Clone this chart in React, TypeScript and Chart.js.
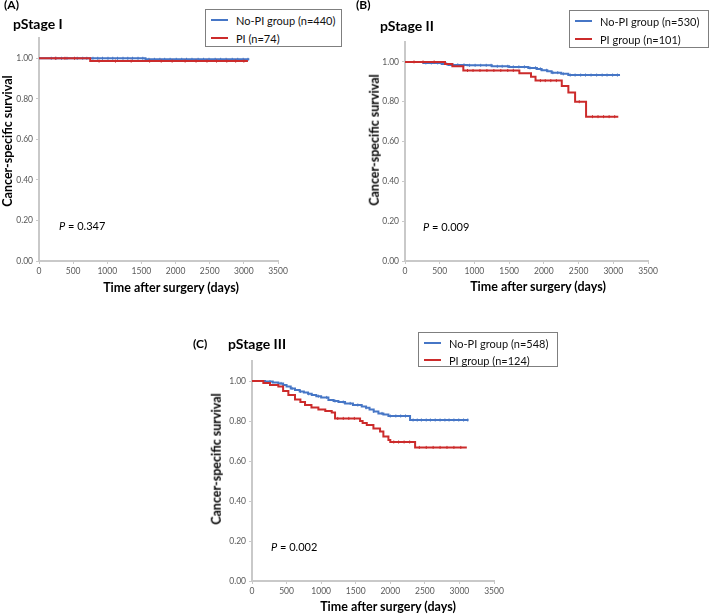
import React, { useEffect, useRef } from "react";
import { Chart, registerables } from "chart.js";

Chart.register(...registerables);

const BLUE = "#4676c6";
const RED = "#cc2b2b";
const AXIS_COLOR = "#c9c9c9";
const TICK_TEXT = "#595959";
const FONT = "Lato, 'Open Sans', sans-serif";

// Axis ticks
const xTickValues = [0, 500, 1000, 1500, 2000, 2500, 3000, 3500];
const yTickValues = [0, 0.2, 0.4, 0.6, 0.8, 1.0];

// ---------- Panel A: pStage I ----------
const aNoPiDays = [0, 1560, 3080];
const aNoPiSurv = [1, 0.995, 0.995];
const aNoPiCensor = [180, 250, 330, 410, 560, 640, 700, 790, 860, 930, 1010, 1080, 1150, 1230, 1300, 1370, 1450, 1520, 1610, 1690, 1770, 1840, 1920, 2010, 2090, 2160, 2240, 2330, 2410, 2490, 2580, 2660, 2740, 2830, 2910, 2990, 3060];
const aPiDays = [0, 750, 3060];
const aPiSurv = [1, 0.986, 0.986];
const aPiCensor = [240, 380, 520, 880, 1120, 1350, 1620, 1790, 1950, 2140, 2300, 2460, 2600, 2750, 2880, 3000];

// ---------- Panel B: pStage II ----------
const bNoPiDays = [0, 264, 528, 624, 900, 1250, 1500, 1776, 1900, 1968, 2050, 2112, 2250, 2352, 3097];
const bNoPiSurv = [1, 0.995, 0.99, 0.985, 0.983, 0.978, 0.975, 0.97, 0.965, 0.958, 0.953, 0.946, 0.94, 0.934, 0.934];
const bNoPiCensor = [300, 380, 470, 600, 690, 760, 850, 930, 1010, 1090, 1170, 1240, 1330, 1400, 1480, 1560, 1640, 1720, 1800, 1880, 1950, 2040, 2130, 2200, 2280, 2380, 2450, 2530, 2600, 2680, 2760, 2840, 2910, 2990, 3060];
const bPiDays = [0, 576, 682, 840, 1647, 1815, 1880, 2258, 2353, 2450, 2608, 3072];
const bPiSurv = [1, 0.989, 0.978, 0.957, 0.943, 0.925, 0.906, 0.879, 0.846, 0.8, 0.725, 0.725];
const bPiCensor = [130, 260, 420, 900, 980, 1080, 1180, 1280, 1380, 1480, 1560, 1950, 2020, 2100, 2180, 2510, 2700, 2780, 2860, 2940, 3020];

// ---------- Panel C: pStage III ----------
const cNoPiDays = [0, 188, 300, 381, 450, 500, 560, 622, 690, 750, 810, 864, 930, 1000, 1105, 1180, 1250, 1346, 1460, 1587, 1650, 1700, 1760, 1828, 1900, 1973, 2286, 3131];
const cNoPiSurv = [1, 0.997, 0.993, 0.988, 0.98, 0.972, 0.963, 0.955, 0.948, 0.942, 0.936, 0.93, 0.924, 0.918, 0.905, 0.9, 0.895, 0.888, 0.88, 0.872, 0.866, 0.858, 0.848, 0.838, 0.832, 0.825, 0.805, 0.805];
const cNoPiCensor = [260, 420, 580, 700, 820, 960, 1080, 1200, 1320, 1420, 1530, 1650, 1760, 1880, 2000, 2080, 2150, 2220, 2330, 2390, 2450, 2520, 2580, 2650, 2720, 2790, 2850, 2920, 2990, 3060, 3120];
const cPiDays = [0, 164, 260, 381, 450, 526, 622, 700, 767, 860, 960, 1060, 1153, 1201, 1563, 1600, 1660, 1756, 1852, 1900, 1973, 2000, 2359, 3107];
const cPiSurv = [1, 0.99, 0.98, 0.972, 0.95, 0.93, 0.908, 0.895, 0.88, 0.868, 0.858, 0.85, 0.842, 0.813, 0.8, 0.79, 0.78, 0.763, 0.747, 0.722, 0.705, 0.695, 0.668, 0.668];
const cPiCensor = [1240, 1320, 1400, 1480, 2050, 2120, 2200, 2280, 2420, 2520, 2620, 2720, 2820, 2920, 3020];

function stepAt(days: number[], surv: number[], x: number) {
  let v = surv[0];
  for (let i = 0; i < days.length; i++) if (days[i] <= x) v = surv[i];
  return v;
}

type Curve = { days: number[]; surv: number[]; censor: number[]; color: string; order: number };
type PanelCfg = {
  left: number; top: number; width: number; height: number;
  axisW: number; padRight: number; padTop: number; axisH: number;
  curves: Curve[];
};

function KMPanel({ cfg }: { cfg: PanelCfg }) {
  const ref = useRef<HTMLCanvasElement>(null);
  useEffect(() => {
    if (!ref.current) return;
    const datasets: any[] = [];
    cfg.curves.forEach((c) => {
      datasets.push({
        data: c.days.map((d, i) => ({ x: d, y: c.surv[i] })),
        borderColor: c.color,
        backgroundColor: c.color,
        borderWidth: 2,
        pointRadius: 0,
        stepped: "before",
        fill: false,
        order: c.order,
      });
      datasets.push({
        data: c.censor.map((d) => ({ x: d, y: stepAt(c.days, c.surv, d) })),
        showLine: false,
        pointStyle: "line",
        pointRotation: 90,
        pointRadius: 1.5,
        pointBorderWidth: 1,
        pointBorderColor: c.color,
        pointBackgroundColor: c.color,
        borderColor: c.color,
        order: c.order,
      });
    });
    const tickFont = { family: FONT, size: 8.5 };
    const chart = new Chart(ref.current, {
      type: "line",
      data: { datasets },
      options: {
        responsive: false,
        animation: false,
        events: [],
        layout: { padding: { left: 0, right: cfg.padRight, top: cfg.padTop, bottom: 0 } },
        plugins: { legend: { display: false }, tooltip: { enabled: false }, title: { display: false } },
        scales: {
          x: {
            type: "linear",
            min: 0,
            max: 3500,
            afterBuildTicks: (s: any) => {
              s.ticks = xTickValues.map((v) => ({ value: v }));
            },
            ticks: {
              font: tickFont,
              color: TICK_TEXT,
              padding: 2,
              maxRotation: 0,
              autoSkip: false,
              callback: (v: any) => String(v),
            },
            grid: { display: true, drawOnChartArea: false, drawTicks: true, tickLength: 3, color: AXIS_COLOR, lineWidth: 1 },
            border: { display: true, color: AXIS_COLOR, width: 2 },
            afterFit: (s: any) => {
              s.height = cfg.axisH;
            },
          },
          y: {
            type: "linear",
            min: 0,
            max: 1.1,
            afterBuildTicks: (s: any) => {
              s.ticks = yTickValues.map((v) => ({ value: v }));
            },
            ticks: {
              font: tickFont,
              color: TICK_TEXT,
              padding: 3,
              autoSkip: false,
              callback: (v: any) => Number(v).toFixed(2),
            },
            grid: { display: true, drawOnChartArea: false, drawTicks: true, tickLength: 3, color: AXIS_COLOR, lineWidth: 1 },
            border: { display: true, color: AXIS_COLOR, width: 2 },
            afterFit: (s: any) => {
              s.width = cfg.axisW;
            },
          },
        },
      } as any,
    });
    return () => chart.destroy();
  }, []);
  return (
    <canvas
      ref={ref}
      width={cfg.width}
      height={cfg.height}
      style={{ position: "absolute", left: cfg.left, top: cfg.top, width: cfg.width, height: cfg.height }}
    />
  );
}

function Txt({ x, y, size, bold, center, rotate, children, color }: any) {
  const tf = rotate
    ? "translate(-50%, -50%) rotate(-90deg)"
    : center
    ? "translate(-50%, -50%)"
    : "translateY(-50%)";
  return (
    <div
      style={{
        position: "absolute",
        left: x,
        top: y,
        transform: tf,
        whiteSpace: "nowrap",
        fontFamily: FONT,
        fontSize: size,
        fontWeight: bold ? 700 : 400,
        lineHeight: 1,
        color: color || "#000",
      }}
    >
      {children}
    </div>
  );
}

function Legend({ x, y, w, h, rows, labels }: any) {
  return (
    <div
      style={{
        position: "absolute",
        left: x,
        top: y,
        width: w,
        height: h,
        boxSizing: "border-box",
        border: "1px solid #7f7f7f",
        background: "#fff",
      }}
    >
      {labels.map((l: any, i: number) => (
        <React.Fragment key={i}>
          <div
            style={{
              position: "absolute",
              left: 5,
              top: rows[i] - 2,
              width: 17,
              height: 2,
              background: l.color,
            }}
          />
          <div
            style={{
              position: "absolute",
              left: 30,
              top: rows[i] - 1,
              transform: "translateY(-50%)",
              whiteSpace: "nowrap",
              fontFamily: FONT,
              fontSize: 11,
              lineHeight: 1,
              color: "#111",
            }}
          >
            {l.text}
          </div>
        </React.Fragment>
      ))}
    </div>
  );
}

const panelA: PanelCfg = {
  left: 0, top: 0, width: 300, height: 300, axisW: 39, padRight: 22, padTop: 38, axisH: 39,
  curves: [
    { days: aNoPiDays, surv: aNoPiSurv, censor: aNoPiCensor, color: BLUE, order: 1 },
    { days: aPiDays, surv: aPiSurv, censor: aPiCensor, color: RED, order: 0 },
  ],
};
const panelB: PanelCfg = {
  left: 360, top: 0, width: 349, height: 300, axisW: 45, padRight: 61, padTop: 42, axisH: 39,
  curves: [
    { days: bNoPiDays, surv: bNoPiSurv, censor: bNoPiCensor, color: BLUE, order: 1 },
    { days: bPiDays, surv: bPiSurv, censor: bPiCensor, color: RED, order: 0 },
  ],
};
const panelC: PanelCfg = {
  left: 180, top: 300, width: 360, height: 314, axisW: 72, padRight: 46, padTop: 61, axisH: 33,
  curves: [
    { days: cNoPiDays, surv: cNoPiSurv, censor: cNoPiCensor, color: BLUE, order: 1 },
    { days: cPiDays, surv: cPiSurv, censor: cPiCensor, color: RED, order: 0 },
  ],
};

const Y_TITLE = "Cancer-specific survival";
const X_TITLE = "Time after surgery (days)";

export default function App() {
  useEffect(() => {
    document.body.style.margin = "0";
  }, []);
  return (
    <div style={{ position: "absolute", left: 0, top: 0, width: 709, height: 614, overflow: "hidden", background: "#fff" }}>
      <KMPanel cfg={panelA} />
      <KMPanel cfg={panelB} />
      <KMPanel cfg={panelC} />

      {/* Panel A texts */}
      <Txt x={4} y={5} size={12} bold>(A)</Txt>
      <Txt x={13} y={24} size={14} bold>pStage I</Txt>
      <Txt x={8} y={141} size={12.5} bold rotate>{Y_TITLE}</Txt>
      <Txt x={171} y={288} size={12.5} bold center>{X_TITLE}</Txt>
      <Txt x={59} y={225} size={11}><span style={{ fontStyle: "italic" }}>P</span> = 0.347</Txt>
      <Legend x={205} y={9} w={137} h={38} rows={[11, 29]}
        labels={[{ text: "No-PI group (n=440)", color: BLUE }, { text: "PI (n=74)", color: RED }]} />

      {/* Panel B texts */}
      <Txt x={356} y={5} size={12} bold>(B)</Txt>
      <Txt x={380} y={26} size={14} bold>pStage II</Txt>
      <Txt x={375} y={140} size={12.5} bold rotate>{Y_TITLE}</Txt>
      <Txt x={538} y={287} size={12.5} bold center>{X_TITLE}</Txt>
      <Txt x={423} y={226} size={11}><span style={{ fontStyle: "italic" }}>P</span> = 0.009</Txt>
      <Legend x={569} y={10} w={140} h={38} rows={[11, 29]}
        labels={[{ text: "No-PI group (n=530)", color: BLUE }, { text: "PI group (n=101)", color: RED }]} />

      {/* Panel C texts */}
      <Txt x={193} y={344} size={12} bold>(C)</Txt>
      <Txt x={228} y={344} size={14} bold>pStage III</Txt>
      <Txt x={217} y={459} size={12.5} bold rotate>{Y_TITLE}</Txt>
      <Txt x={388} y={607} size={12.5} bold center>{X_TITLE}</Txt>
      <Txt x={271} y={546} size={11}><span style={{ fontStyle: "italic" }}>P</span> = 0.002</Txt>
      <Legend x={418} y={332} w={140} h={35} rows={[10.5, 27.5]}
        labels={[{ text: "No-PI group (n=548)", color: BLUE }, { text: "PI group (n=124)", color: RED }]} />
    </div>
  );
}
